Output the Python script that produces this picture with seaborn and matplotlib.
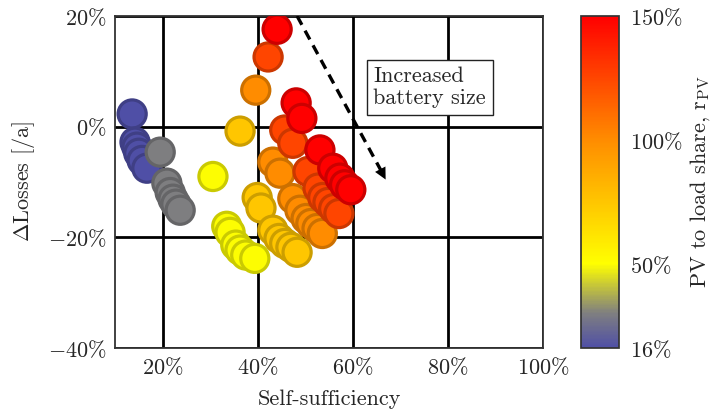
import numpy as np
import pandas as pd
import seaborn as sns
import matplotlib.pyplot as plt
from matplotlib.colors import LinearSegmentedColormap, Normalize
from matplotlib.cm import ScalarMappable

# self-sufficiency [%], delta losses [%], PV to load share [%]
blue_x = [13.6, 14.2, 14.6, 15.0, 15.7, 16.7]
blue_y = [2.3, -2.8, -3.7, -4.8, -6.1, -7.5]
gray_x = [19.5, 20.9, 21.6, 22.2, 22.8, 23.7]
gray_y = [-4.6, -10.2, -11.9, -13.1, -14.0, -15.1]
yellow_x = [30.6, 33.5, 34.2, 35.4, 36.3, 37.5, 39.4]
yellow_y = [-9.0, -18.0, -19.1, -21.4, -22.3, -23.2, -23.8]
gold_x = [36.3, 39.9, 40.7, 43.2, 44.5, 45.7, 47.0, 48.3]
gold_y = [-0.8, -12.8, -14.7, -18.7, -20.2, -21.1, -21.8, -22.7]
orange_x = [39.6, 43.2, 44.7, 47.4, 48.9, 50.2, 51.2, 52.5, 53.6]
orange_y = [6.6, -6.4, -8.4, -13.0, -15.1, -16.6, -17.5, -18.4, -19.3]
redorange_x = [42.2, 45.7, 47.4, 50.6, 52.7, 53.7, 54.8, 56.0, 57.1]
redorange_y = [12.6, -0.6, -3.0, -8.1, -11.1, -12.8, -13.7, -14.8, -15.7]
red_x = [44.1, 48.1, 49.3, 53.1, 55.8, 57.3, 58.3, 59.6]
red_y = [17.6, 4.3, 1.5, -4.2, -7.5, -9.3, -10.5, -11.4]
pv_share = [16, 30, 50, 75, 100, 125, 150]

cbar_ticks = [16, 50, 100, 150]
cbar_labels = [r"$16\%$", r"$50\%$", r"$100\%$", r"$150\%$"]
x_ticks = [20, 40, 60, 80, 100]
x_labels = [r"$20\%$", r"$40\%$", r"$60\%$", r"$80\%$", r"$100\%$"]
y_ticks = [-40, -20, 0, 20]
y_labels = [r"$-40\%$", r"$-20\%$", r"$0\%$", r"$20\%$"]

groups = [(blue_x, blue_y), (gray_x, gray_y), (yellow_x, yellow_y),
          (gold_x, gold_y), (orange_x, orange_y),
          (redorange_x, redorange_y), (red_x, red_y)]
rows = []
for (gx, gy), pv in zip(groups, pv_share):
    for a, b in zip(gx, gy):
        rows.append((a, b, pv))
df = pd.DataFrame(rows, columns=["ss", "dl", "pv"])

sns.set_theme(style="white")
plt.rcParams["font.family"] = "serif"
plt.rcParams["font.serif"] = ["cmr10", "DejaVu Serif"]
plt.rcParams["mathtext.fontset"] = "cm"
plt.rcParams["axes.formatter.use_mathtext"] = True
FS = 16

vmin, vmax = 16, 150
nodes = [(0.0, (0.31, 0.31, 0.65)),
         ((30 - vmin) / (vmax - vmin), (0.5, 0.5, 0.5)),
         ((50 - vmin) / (vmax - vmin), (1.0, 1.0, 0.0)),
         ((100 - vmin) / (vmax - vmin), (1.0, 0.55, 0.0)),
         (1.0, (1.0, 0.0, 0.0))]
cmap = LinearSegmentedColormap.from_list("pvmap", nodes)
norm = Normalize(vmin, vmax)

fig = plt.figure(figsize=(7.19, 4.15), dpi=100)
ax = fig.add_axes([0.160, 0.1614, 0.595, 0.800])
cax = fig.add_axes([0.808, 0.1614, 0.0529, 0.800])

ax.grid(True, color="black", lw=2)
ax.set_axisbelow(True)
sns.scatterplot(data=df, x="ss", y="dl", hue="pv", palette=cmap, hue_norm=norm,
                s=410, linewidth=2.3, legend=False, ax=ax, zorder=3)
pts = ax.collections[0]
fc = pts.get_facecolors()
pts.set_edgecolors(fc * np.array([0.8, 0.8, 0.8, 1.0]))

ax.set_xlim(10, 100)
ax.set_ylim(-40, 20)
ax.set_xticks(x_ticks, labels=x_labels, fontsize=FS)
ax.set_yticks(y_ticks, labels=y_labels, fontsize=FS)
ax.tick_params(direction="in", length=4, color="gray", pad=6)
for sp in ax.spines.values():
    sp.set_color("#333333")
    sp.set_linewidth(1.3)
ax.set_xlabel("Self-sufficiency", fontsize=FS, labelpad=8)
ax.set_ylabel(r"$\Delta$Losses [/a]", fontsize=FS, labelpad=8)

# annotation arrow
ax.plot([48.3, 66.0], [20.0, -8.0], ls=(0, (3, 2)), lw=2.4, color="black", zorder=4)
ax.annotate("", xy=(67.2, -10.0), xytext=(65.5, -7.2),
            arrowprops=dict(arrowstyle="-|>,head_length=0.7,head_width=0.35",
                            color="black", lw=0), zorder=4)
ax.text(76.2, 7.1, "Increased\nbattery size", ha="center", va="center",
        multialignment="left", fontsize=FS, zorder=5, linespacing=1.15,
        bbox=dict(boxstyle="square,pad=0.3", fc="white", ec="#222222", lw=1))

cb = fig.colorbar(ScalarMappable(norm=norm, cmap=cmap), cax=cax)
cb.set_ticks(cbar_ticks, labels=cbar_labels)
cb.ax.tick_params(labelsize=FS, length=0, pad=8)
cb.outline.set_edgecolor("#333333")
cb.set_label(r"PV to load share, $\mathrm{r}_{\mathrm{PV}}$", fontsize=FS, labelpad=4)

fig.savefig("out.png", dpi=100)
